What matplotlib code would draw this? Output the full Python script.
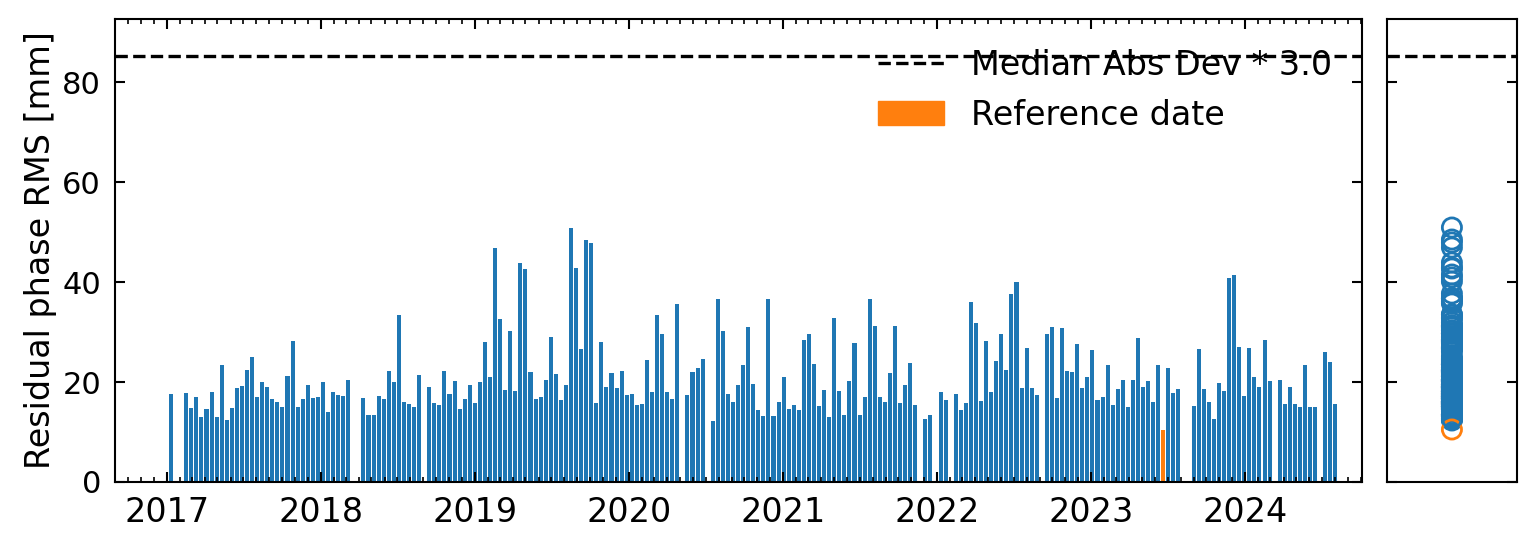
import datetime as dt
import numpy as np
import matplotlib
matplotlib.use('Agg')
import matplotlib.pyplot as plt
import matplotlib.dates as mdates
from matplotlib.patches import Patch
from matplotlib.lines import Line2D

# acquisition cadence (days) and first acquisition
start_date = dt.date(2017, 1, 11)
step_days = 12
ref_date = dt.date(2023, 6, 21)
mad_threshold = 85.2

# residual phase RMS per acquisition [mm], None = no acquisition
rms_values = [
    17.7, None, None, 17.9, 14.9, 17.1, 13.1, 14.7, 18.1, 13.1,
    23.5, 12.5, 14.9, 18.9, 19.3, 22.5, 25.1, 17.1, 20.1, 19.1,
    16.7, 16.1, 15.1, 21.3, 28.3, 15.1, 16.7, 19.5, 16.9, 17.1,
    20.1, 14.1, 18.1, 17.5, 17.3, 20.5, None, None, 16.9, 13.5,
    13.5, 17.3, 16.7, 22.3, 20.1, 33.5, 16.1, 15.7, 15.1, 21.5,
    None, 19.1, 15.9, 15.5, 22.3, 17.7, 20.3, 14.7, 16.7, 19.5,
    15.9, 20.1, 28.1, 21.1, 46.9, 32.7, 18.5, 30.3, 18.3, 43.9,
    42.7, 22.1, 16.7, 17.1, 20.5, 29.1, 21.7, 16.5, 19.5, 50.9,
    42.9, 26.7, 48.5, 47.9, 15.9, 28.1, 19.1, 21.9, 18.9, 22.3,
    17.5, 17.7, 15.5, 15.7, 24.5, 18.1, 33.5, 29.7, 18.1, 16.7,
    35.7, None, 17.5, 22.1, 22.9, 24.7, None, 12.3, 36.7, 30.3,
    17.7, 16.1, 19.5, 23.5, 31.1, 19.7, 14.5, 13.3, 36.7, 13.3,
    16.1, 21.1, 14.7, 15.5, 14.5, 28.5, 29.7, 23.7, 15.3, 18.5,
    13.1, 32.9, 18.3, 13.5, 20.3, 27.9, 13.5, 17.1, 36.7, 31.3,
    17.1, 16.1, 21.9, 31.3, 15.9, 19.5, 23.9, 15.5, None, 12.7,
    13.5, None, 18.1, 16.5, None, 17.7, 14.5, 15.9, 36.1, 31.9,
    16.3, 28.3, 18.1, 24.3, 29.7, 22.5, 37.7, 40.1, 18.9, 26.9,
    18.9, 17.5, None, 29.7, 31.1, 16.9, 30.9, 22.3, 22.1, 27.7,
    18.9, 21.1, 26.5, 16.5, 17.1, 23.5, 15.5, 18.7, 20.5, 15.1,
    20.5, 28.9, 19.1, 20.3, 16.1, 23.5, 10.5, 22.9, 17.9, 18.7,
    None, None, 15.3, 26.7, 18.7, 16.1, 12.7, 19.9, 18.3, 40.9,
    41.5, 27.1, 17.3, 26.9, 21.1, 19.1, 28.5, 20.3, None, 20.5,
    15.7, 19.1, 15.7, 15.1, 23.5, 15.1, 15.1, None, 26.1, 24.1,
    15.7,
]

dates = []
values = []
for i, v in enumerate(rms_values):
    if v is None:
        continue
    dates.append(start_date + dt.timedelta(days=step_days * i))
    values.append(v)
values = np.array(values)
is_ref = np.array([d == ref_date for d in dates])
colors = np.where(is_ref, 'tab:orange', 'tab:blue')

plt.rcParams['font.size'] = 24
plt.rcParams['axes.linewidth'] = 1.5

fig = plt.figure(figsize=(15.31, 5.45), dpi=100)
ax = fig.add_axes([0.0751, 0.1156, 0.8145, 0.8495])
ax2 = fig.add_axes([0.9059, 0.1156, 0.0849, 0.8495])

ax.bar(dates, values, width=9.6, color=colors)
ax.axhline(mad_threshold, color='k', ls='--', lw=2.4)

ax.set_xlim(dt.date(2016, 8, 31), dt.date(2024, 10, 4))
ax.set_ylim(0, 92.6)
ax.xaxis.set_major_locator(mdates.YearLocator())
ax.xaxis.set_major_formatter(mdates.DateFormatter('%Y'))
ax.xaxis.set_minor_locator(mdates.MonthLocator())
ax.tick_params(which='both', direction='in', top=True, right=True, pad=10)
ax.tick_params(which='major', length=7, width=1.5)
ax.tick_params(which='minor', length=3.5, width=1.2)
ax.tick_params(axis='y', labelsize=22)
ax.set_ylabel('Residual phase RMS [mm]')

handles = [Line2D([0], [0], color='k', ls='--', lw=2.4),
           Patch(color='tab:orange')]
ax.legend(handles, ['Median Abs Dev * 3.0', 'Reference date'],
          loc='upper right', frameon=False)

# distribution panel
ax2.scatter(np.zeros(len(values)), values, s=190, facecolors='none',
            edgecolors=colors, linewidths=2)
ax2.axhline(mad_threshold, color='k', ls='--', lw=2.4)
ax2.set_xlim(-1, 1)
ax2.set_ylim(0, 92.6)
ax2.set_xticks([])
ax2.set_yticks([0, 20, 40, 60, 80])
ax2.tick_params(direction='in', left=True, right=True, labelleft=False,
                length=7, width=1.5)

fig.savefig('out.png', dpi=100)
